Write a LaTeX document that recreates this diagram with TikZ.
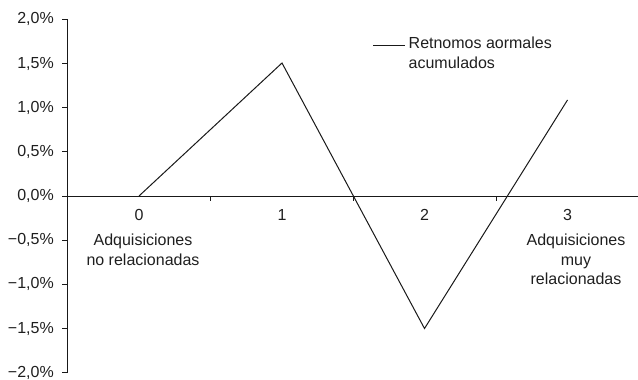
\documentclass[tikz,border=0pt]{standalone}
\usepackage{fontspec}
\setmainfont{Liberation Sans}
\begin{document}
\begin{tikzpicture}[x=1pt,y=-1pt,
  ink/.style={draw=black!90, line width=1pt},
  lbl/.style={text=black!88, font=\fontsize{16}{19.5}\selectfont, inner sep=0pt},
  ylbl/.style={lbl, anchor=east},
  pt/.style={inner sep=0pt, minimum size=0pt}]
\useasboundingbox (0,0) rectangle (638,380);
% axes
\coordinate (ytop) at (67,19.3);
\coordinate (ybot) at (67,372.7);
\coordinate (xl) at (67,196);
\coordinate (xr) at (638,196);
\draw[ink] (ytop) -- (ybot);
\draw[ink] (xl) -- (xr);
% y ticks and labels
\foreach \i/\t in {0/{2,0\%},1/{1,5\%},2/{1,0\%},3/{0,5\%},4/{0,0\%},5/{−0,5\%},6/{−1,0\%},7/{−1,5\%},8/{−2,0\%}}{
  \coordinate (yt\i) at (67,19.3+\i*44.175);
  \draw[ink] (yt\i) -- ++(-5,0);
  \node[ylbl] (yl\i) at (54,19.3+\i*44.175) {\t};
}
% x ticks
\foreach \x/\n in {210/a,353/b,496/c}{
  \coordinate (xt\n) at (\x,196);
  \draw[ink] (xt\n) -- ++(0,5);
}
% x labels
\node[lbl] (c0) at (139,215) {0};
\node[lbl] (c1) at (282,215) {1};
\node[lbl] (c2) at (424.5,215) {2};
\node[lbl] (c3) at (567.5,215) {3};
\node[lbl, align=center, anchor=north] (lnote) at (143,234) {Adquisiciones\\no relacionadas};
\node[lbl, align=center, anchor=north] (rnote) at (576,234) {Adquisiciones\\muy\\relacionadas};
% data
\node[pt] (p0) at (139,196) {};
\node[pt] (p1) at (282,63) {};
\node[pt] (p2) at (424.5,328.5) {};
\node[pt] (p3) at (567.5,100) {};
\draw[ink] (p0.center) -- (p1.center) -- (p2.center) -- (p3.center);
% legend
\coordinate (lg0) at (373,45);
\coordinate (lg1) at (405,45);
\draw[ink] (lg0) -- (lg1);
\node[lbl, align=left, anchor=north west] (lgt) at (408.5,37) {Retnomos aormales\\acumulados};
\end{tikzpicture}
\end{document}
